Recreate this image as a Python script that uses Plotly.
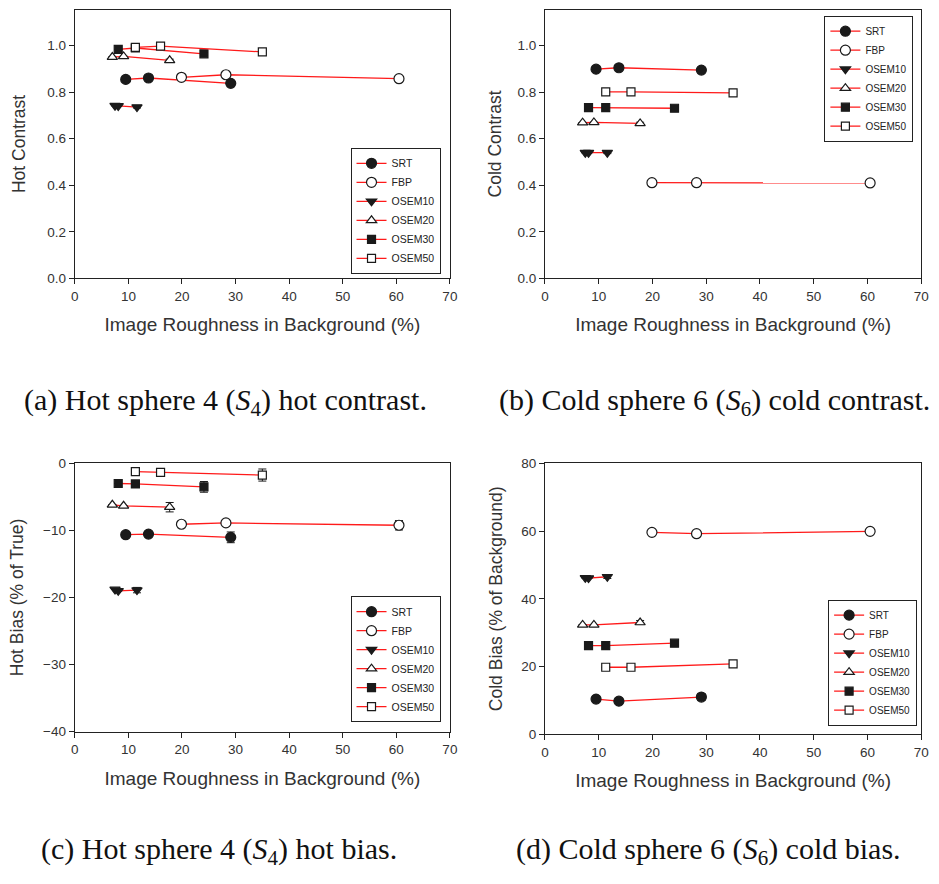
import plotly.graph_objects as go

methods = ["SRT", "FBP", "OSEM10", "OSEM20", "OSEM30", "OSEM50"]

# roughness in background (%) per method (three settings each)
x_srt = [9.5, 13.75, 29.1]
x_fbp = [19.9, 28.2, 60.5]
x_osem10 = [7.5, 8.1, 11.6]
x_osem20 = [7.0, 9.1, 17.7]
x_osem30 = [8.1, 11.3, 24.1]
x_osem50 = [11.3, 16.0, 35.0]

# (a) hot contrast
a_srt = [0.855, 0.861, 0.838]
a_fbp = [0.864, 0.875, 0.858]
a_osem10 = [0.742, 0.741, 0.736]
a_osem20 = [0.951, 0.954, 0.937]
a_osem30 = [0.984, 0.990, 0.965]
a_osem50 = [0.993, 0.998, 0.973]

# (b) cold contrast
b_srt = [0.899, 0.905, 0.895]
b_fbp = [0.411, 0.411, 0.410]
b_osem10 = [0.540, 0.540, 0.540]
b_osem20 = [0.669, 0.670, 0.666]
b_osem30 = [0.734, 0.734, 0.731]
b_osem50 = [0.801, 0.801, 0.797]

# (c) hot bias (% of true)
c_srt = [-10.65, -10.56, -11.04]
c_fbp = [-9.09, -8.89, -9.24]
c_osem10 = [-18.8, -19.0, -18.9]
c_osem20 = [-6.2, -6.35, -6.55]
c_osem30 = [-3.02, -3.08, -3.52]
c_osem50 = [-1.26, -1.36, -1.76]

# (d) cold bias (% of background)
d_srt = [10.4, 9.8, 11.0]
d_fbp = [59.6, 59.2, 59.9]
d_osem10 = [46.2, 46.1, 46.5]
d_osem20 = [32.3, 32.3, 33.0]
d_osem30 = [26.2, 26.2, 26.9]
d_osem50 = [19.8, 19.8, 20.8]

# error bars (third point only)
a_err = [0.010, 0.006, 0.004, 0.005, 0.006, 0.005]
b_err = [0.006, 0.006, 0.004, 0.005, 0.005, 0.005]
c_err = [0.8, 0.7, 0.4, 0.7, 0.8, 0.9]
d_err = [1.0, 0.8, 0.5, 0.6, 0.8, 0.6]

xs = [x_srt, x_fbp, x_osem10, x_osem20, x_osem30, x_osem50]
panels = [
    ([a_srt, a_fbp, a_osem10, a_osem20, a_osem30, a_osem50], a_err),
    ([b_srt, b_fbp, b_osem10, b_osem20, b_osem30, b_osem50], b_err),
    ([c_srt, c_fbp, c_osem10, c_osem20, c_osem30, c_osem50], c_err),
    ([d_srt, d_fbp, d_osem10, d_osem20, d_osem30, d_osem50], d_err),
]

y_titles = ["Hot Contrast", "Cold Contrast", "Hot Bias (% of True)", "Cold Bias (% of Background)"]
x_title = "Image Roughness in Background (%)"
y_ranges = [[0, 1.155], [0, 1.155], [-40, 0], [0, 80]]
y_dticks = [0.2, 0.2, 10, 20]
y_formats = [".1f", ".1f", "", ""]
captions = [
    "(a) Hot sphere 4 (<i>S</i><sub>4</sub>) hot contrast.",
    "(b) Cold sphere 6 (<i>S</i><sub>6</sub>) cold contrast.",
    "(c) Hot sphere 4 (<i>S</i><sub>4</sub>) hot bias.",
    "(d) Cold sphere 6 (<i>S</i><sub>6</sub>) cold bias.",
]

symbols = ["circle", "circle-open", "triangle-down", "triangle-up-open", "square", "square-open"]
sizes = [10, 10, 9, 9, 8, 8]

x_domains = [[0.0764, 0.481], [0.5836, 0.9894], [0.0764, 0.481], [0.5836, 0.9894]]
y_domains = [[0.6878, 0.997], [0.6878, 0.997], [0.166, 0.475], [0.163, 0.475]]
y_standoffs = [17, 11, 14, 14]
legend_pos = [(0.3738, 0.838), (0.885, 0.99), (0.3738, 0.322), (0.889, 0.318)]
legend_fonts = [10.5, 10, 10.5, 10]
caption_pos = [(0.239, 0.545), (0.766, 0.545), (0.232, 0.029), (0.760, 0.029)]

fig = go.Figure()
layout = dict(
    width=939, height=884,
    margin=dict(l=0, r=0, t=0, b=0),
    plot_bgcolor="white", paper_bgcolor="white",
    font=dict(family="Liberation Sans, Arial", color="#222"),
    annotations=[],
)

for p, (ys, errs) in enumerate(panels):
    idx = "" if p == 0 else str(p + 1)
    leg = "legend" if p == 0 else f"legend{p + 1}"
    for m in range(6):
        is_open = symbols[m].endswith("open")
        fig.add_trace(go.Scatter(
            x=xs[m], y=ys[m], mode="lines+markers", name=methods[m],
            xaxis="x" + idx, yaxis="y" + idx, legend=leg,
            line=dict(color="#ff1a1a", width=1.3),
            marker=dict(symbol=symbols[m].replace("-open", "") if is_open else symbols[m],
                        size=sizes[m],
                        color="white" if is_open else "#1a1a1a",
                        line=dict(color="#1a1a1a", width=1.2)),
            error_y=dict(type="data", array=[None, None, errs[m]], color="#1a1a1a",
                         thickness=1, width=4),
        ))
    xa = dict(domain=x_domains[p], range=[0, 70], dtick=10, anchor="y" + idx,
              showline=True, linecolor="#222", linewidth=1.2, mirror=True,
              ticks="outside", ticklen=5, tickcolor="#222", showgrid=False, zeroline=False,
              tickfont=dict(size=13.5, color="#333"),
              title=dict(text=x_title, font=dict(size=19, color="#333"), standoff=15))
    ya = dict(domain=y_domains[p], range=y_ranges[p], dtick=y_dticks[p], anchor="x" + idx,
              showline=True, linecolor="#222", linewidth=1.2, mirror=True,
              ticks="outside", ticklen=5, tickcolor="#222", showgrid=False, zeroline=False,
              tickformat=y_formats[p], tick0=y_ranges[p][0],
              tickfont=dict(size=13.5, color="#333"),
              title=dict(text=y_titles[p], font=dict(size=17.5, color="#333"), standoff=y_standoffs[p]))
    layout["xaxis" + idx] = xa
    layout["yaxis" + idx] = ya
    layout[leg] = dict(x=legend_pos[p][0], y=legend_pos[p][1], xanchor="left", yanchor="top",
                       bordercolor="#222", borderwidth=1, bgcolor="white",
                       font=dict(size=legend_fonts[p], color="#222"), itemwidth=30, tracegroupgap=0)
    layout["annotations"].append(dict(
        text=captions[p], x=caption_pos[p][0], y=caption_pos[p][1], xref="paper", yref="paper",
        showarrow=False, xanchor="center", yanchor="middle",
        font=dict(family="Liberation Serif", size=30, color="#111")))

fig.update_layout(**layout)
fig.write_html("out.html",
               post_script="document.body.style.margin='0';document.body.style.overflow='hidden';")
